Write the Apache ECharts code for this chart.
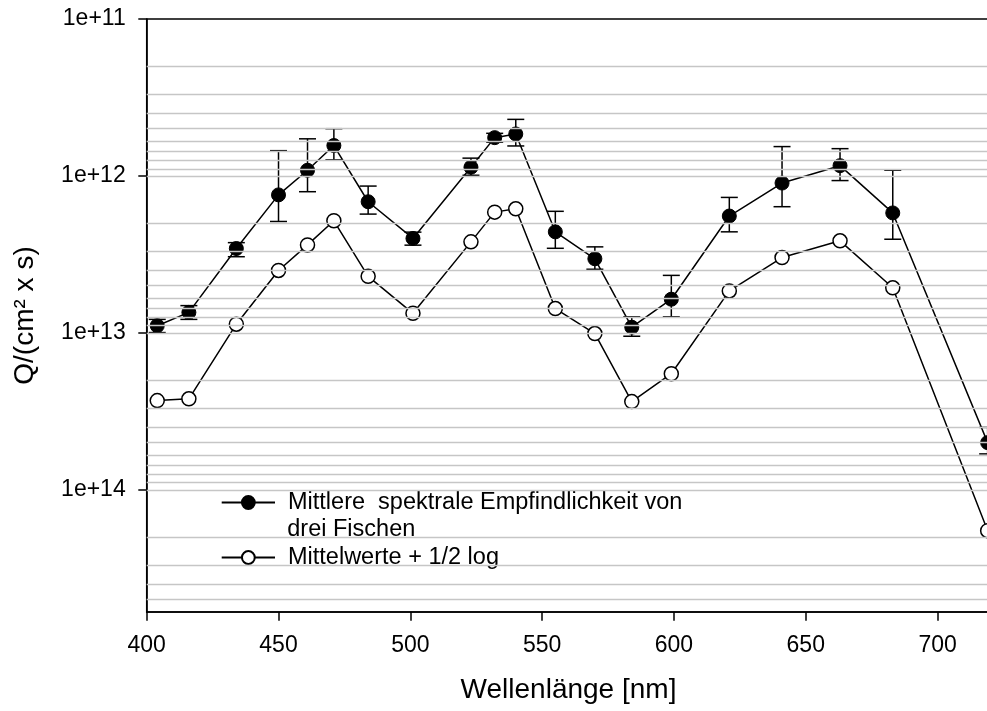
<!DOCTYPE html>
<html><head><meta charset="utf-8">
<script src="https://cdn.jsdelivr.net/npm/echarts@6/dist/echarts.min.js"></script>
<style>html,body{margin:0;padding:0;background:#fff;overflow:hidden}#c{width:987px;height:711px}</style>
</head><body><div id="c"></div>
<script>
// ---- data ----
const wavelengths = [404, 416, 434, 450, 461, 471, 484, 501, 523, 532, 540, 555, 570, 584, 599, 621, 641, 663, 683, 719];
const meanQ     = [9.0e12, 7.4e12, 2.9e12, 1.32e12, 9.2e11, 6.4e11, 1.46e12, 2.5e12, 8.8e11, 5.7e11, 5.4e11, 2.27e12, 3.37e12, 9.2e12, 6.1e12, 1.8e12, 1.11e12, 8.6e11, 1.72e12, 5.0e13];
const meanLow   = [8.2e12, 6.7e12, 2.66e12, 6.9e11, 5.8e11, 5.0e11, 1.16e12, 2.28e12, 7.7e11, 5.35e11, 4.36e11, 1.68e12, 2.83e12, 7.9e12, 4.3e12, 1.37e12, 6.5e11, 6.7e11, 9.2e11, 4.0e13];
const meanHigh  = [9.95e12, 8.2e12, 3.27e12, 1.95e12, 1.26e12, 7.9e11, 1.75e12, 2.76e12, 9.9e11, 6.1e11, 6.44e11, 2.89e12, 3.93e12, 1.05e13, 7.9e12, 2.27e12, 1.57e12, 1.07e12, 2.53e12, 5.9e13];
const shiftedQ  = [2.70e13, 2.63e13, 8.8e12, 4.0e12, 2.75e12, 1.93e12, 4.36e12, 7.5e12, 2.63e12, 1.70e12, 1.62e12, 7.0e12, 1.01e13, 2.74e13, 1.82e13, 5.4e12, 3.31e12, 2.59e12, 5.16e12, 1.82e14];
const seriesNames = ['Mittlere  spektrale Empfindlichkeit von\ndrei Fischen', 'Mittelwerte + 1/2 log'];
const yTickValues = [1e11, 1e12, 1e13, 1e14];
const xTickValues = [400, 450, 500, 550, 600, 650, 700];
const gridMultipliers = [1, 2, 3, 4, 5, 6, 7, 8, 9];
const xRange = [400, 720];
const yRange = [1e11, 6e14];

// ---- build ----
const FONT = "'Liberation Sans', Arial, Helvetica, sans-serif";
const gridLineValues = [];
yTickValues.forEach(d => gridMultipliers.forEach(m => {
  const v = m * d;
  if (v > yRange[0] && v < yRange[1]) gridLineValues.push(v);
}));

const meanData = wavelengths.map((w, i) => [w, meanQ[i]]);
const shiftedData = wavelengths.map((w, i) => [w, shiftedQ[i]]);
const errData = wavelengths.map((w, i) => [w, meanLow[i], meanHigh[i]]);

const chart = echarts.init(document.getElementById('c'), null, {renderer: 'canvas'});
const lineCol = '#000';
const legendFont = 23.5;
chart.setOption({
  animation: false,
  backgroundColor: '#fff',
  textStyle: {fontFamily: FONT},
  grid: {left: 146.7, width: 843.6, top: 19, bottom: 99, show: true, borderColor: '#000', borderWidth: 1.5,
    backgroundColor: 'transparent', outerBoundsMode: 'none', containLabel: false},
  xAxis: {
    type: 'value', min: xRange[0], max: xRange[1], interval: 50,
    name: 'Wellenlänge [nm]', nameLocation: 'middle', nameGap: 64,
    nameTextStyle: {fontSize: 28, color: '#000', fontFamily: FONT},
    axisLine: {show: true, lineStyle: {color: '#000', width: 1.5}},
    axisTick: {show: true, length: 8.7, lineStyle: {color: '#000', width: 1.5}, customValues: xTickValues},
    axisLabel: {fontSize: 23, color: '#000', margin: 22, fontFamily: FONT, customValues: xTickValues,
      formatter: v => (xTickValues.indexOf(v) >= 0 ? String(v) : '')},
    splitLine: {show: false}
  },
  yAxis: {
    type: 'log', logBase: 10, inverse: true, min: yRange[0], max: yRange[1],
    name: 'Q/(cm² x s)', nameLocation: 'middle', nameGap: 107,
    nameTextStyle: {fontSize: 28, color: '#000', fontFamily: FONT},
    axisLine: {show: true, lineStyle: {color: '#000', width: 1.5}},
    axisTick: {show: true, length: 8.4, lineStyle: {color: '#000', width: 1.5}, customValues: yTickValues},
    axisLabel: {fontSize: 23, color: '#000', margin: 21, fontFamily: FONT, customValues: yTickValues,
      formatter: v => {
        const e = Math.log10(v);
        return Math.abs(e - Math.round(e)) < 1e-6 ? '1e+' + Math.round(e) : '';
      }},
    splitLine: {show: false},
    minorTick: {show: false}
  },
  legend: [
    {
      left: 220.7, top: 490.5, padding: 0, orient: 'vertical',
      itemWidth: 53.3, itemHeight: 16, selectedMode: false,
      data: [seriesNames[0]],
      formatter: n => n.split('\n')[0],
      textStyle: {fontSize: legendFont, color: '#000', fontFamily: FONT, padding: [0, 0, 0, 8]}
    },
    {
      left: 220.7, top: 545.5, padding: 0, orient: 'vertical',
      itemWidth: 53.3, itemHeight: 16, selectedMode: false,
      data: [seriesNames[1]],
      textStyle: {fontSize: legendFont, color: '#000', fontFamily: FONT, padding: [0, 0, 0, 8]}
    }
  ],
  graphic: [{
    type: 'text', x: 287.3, y: 529.7,
    style: {text: seriesNames[0].split('\n')[1], font: legendFont + 'px ' + FONT, fill: '#000', verticalAlign: 'middle', align: 'left'}
  }],
  series: [
    {
      name: 'grid', type: 'line', data: [], z: 0, silent: true,
      markLine: {
        silent: true, symbol: ['none', 'none'], animation: false,
        label: {show: false},
        lineStyle: {color: '#c6c6c6', width: 1.3, type: 'solid'},
        data: gridLineValues.map(v => ({yAxis: v}))
      }
    },
    {
      name: 'err', type: 'custom', z: 2, silent: true,
      data: errData,
      encode: {x: 0, y: [1, 2]},
      renderItem: (params, api) => {
        const x = api.value(0);
        const p1 = api.coord([x, api.value(1)]);
        const p2 = api.coord([x, api.value(2)]);
        const hw = 8.5;
        const st = {stroke: '#000', lineWidth: 1.5};
        return {type: 'group', children: [
          {type: 'line', shape: {x1: p1[0], y1: p1[1], x2: p2[0], y2: p2[1]}, style: st},
          {type: 'line', shape: {x1: p1[0] - hw, y1: p1[1], x2: p1[0] + hw, y2: p1[1]}, style: st},
          {type: 'line', shape: {x1: p2[0] - hw, y1: p2[1], x2: p2[0] + hw, y2: p2[1]}, style: st}
        ]};
      }
    },
    {
      name: seriesNames[0], type: 'line', z: 3, data: meanData,
      symbol: 'circle', symbolSize: 14, showAllSymbol: true,
      lineStyle: {color: lineCol, width: 1.5},
      itemStyle: {color: '#000', borderColor: '#000', borderWidth: 1}
    },
    {
      name: seriesNames[1], type: 'line', z: 3, data: shiftedData,
      symbol: 'circle', symbolSize: 14, showAllSymbol: true,
      lineStyle: {color: lineCol, width: 1.5},
      itemStyle: {color: '#fff', borderColor: '#000', borderWidth: 1.5}
    }
  ]
});
</script>
</body></html>
